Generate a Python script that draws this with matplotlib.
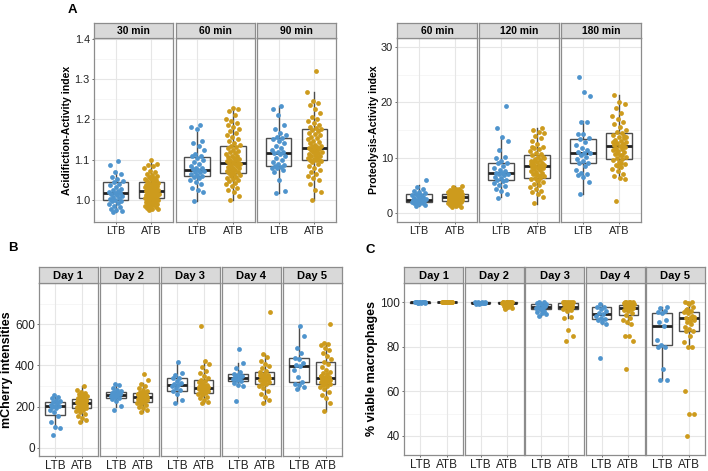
import numpy as np
import matplotlib
matplotlib.use("Agg")
import matplotlib.pyplot as plt

plt.rcParams['font.family'] = ['Liberation Sans', 'DejaVu Sans']

W, H = 708, 471
LTB_COLOR = "#4F94CD"
ATB_COLOR = "#CD9B1D"
groups = ["LTB", "ATB"]

# ---- Panel A left: acidification ----
acid_titles = ["30 min", "60 min", "90 min"]
acid_ltb = [
    [0.970, 0.972, 0.975, 0.978, 0.982, 0.985, 0.99, 0.993, 0.996, 0.998, 1.0, 1.002, 1.005, 1.008,
     1.01, 1.012, 1.015, 1.017, 1.018, 1.02, 1.022, 1.025, 1.028, 1.032, 1.036, 1.04, 1.044, 1.048,
     1.052, 1.056, 1.065, 1.07, 1.087, 1.097],
    [0.998, 1.02, 1.025, 1.03, 1.04, 1.045, 1.05, 1.055, 1.058, 1.06, 1.062, 1.065, 1.068, 1.07,
     1.072, 1.075, 1.076, 1.078, 1.08, 1.085, 1.09, 1.095, 1.1, 1.105, 1.108, 1.11, 1.115, 1.125,
     1.135, 1.14, 1.145, 1.177, 1.18, 1.187],
    [1.017, 1.022, 1.05, 1.07, 1.075, 1.078, 1.08, 1.082, 1.084, 1.086, 1.09, 1.095, 1.1, 1.105,
     1.11, 1.113, 1.116, 1.118, 1.12, 1.125, 1.13, 1.135, 1.14, 1.145, 1.15, 1.153, 1.155, 1.16,
     1.165, 1.175, 1.185, 1.21, 1.225, 1.233],
]
acid_atb = [
    [0.975, 0.977, 0.978, 0.980, 0.982, 0.983, 0.985, 0.987, 0.988, 0.990, 0.992, 0.994, 0.995,
     0.997, 0.999, 1.000, 1.002, 1.003, 1.004, 1.005, 1.006, 1.008, 1.009, 1.010, 1.012, 1.013,
     1.014, 1.015, 1.016, 1.018, 1.019, 1.020, 1.021, 1.022, 1.023, 1.024, 1.025, 1.027, 1.028,
     1.030, 1.031, 1.032, 1.034, 1.035, 1.037, 1.038, 1.040, 1.042, 1.043, 1.045, 1.047, 1.049,
     1.051, 1.053, 1.055, 1.057, 1.060, 1.062, 1.065, 1.068, 1.072, 1.078, 1.085, 1.087, 1.090, 1.100],
    [1.000, 1.010, 1.020, 1.025, 1.030, 1.035, 1.040, 1.043, 1.046, 1.050, 1.052, 1.055, 1.058,
     1.060, 1.062, 1.064, 1.066, 1.068, 1.070, 1.072, 1.074, 1.076, 1.078, 1.080, 1.082, 1.084,
     1.086, 1.088, 1.090, 1.091, 1.092, 1.094, 1.096, 1.098, 1.100, 1.102, 1.104, 1.106, 1.108,
     1.110, 1.113, 1.116, 1.119, 1.122, 1.125, 1.128, 1.131, 1.134, 1.137, 1.140, 1.145, 1.150,
     1.155, 1.160, 1.165, 1.170, 1.175, 1.180, 1.185, 1.190, 1.195, 1.200, 1.210, 1.220, 1.225, 1.228],
    [1.000, 1.020, 1.025, 1.040, 1.050, 1.055, 1.060, 1.065, 1.070, 1.075, 1.080, 1.085, 1.090,
     1.093, 1.096, 1.098, 1.099, 1.100, 1.102, 1.104, 1.106, 1.108, 1.110, 1.112, 1.114, 1.116,
     1.118, 1.120, 1.122, 1.124, 1.126, 1.128, 1.130, 1.131, 1.133, 1.135, 1.137, 1.140, 1.143,
     1.146, 1.150, 1.153, 1.156, 1.160, 1.163, 1.166, 1.170, 1.173, 1.175, 1.178, 1.182, 1.186,
     1.190, 1.195, 1.200, 1.205, 1.215, 1.225, 1.235, 1.240, 1.245, 1.268, 1.320],
]
# box stats: (whisker low, q1, median, q3, whisker high)
acid_ltb_box = [(0.969, 1.0, 1.017, 1.044, 1.072), (0.998, 1.06, 1.075, 1.107, 1.168),
                (1.017, 1.084, 1.116, 1.153, 1.233)]
acid_atb_box = [(0.975, 1.004, 1.022, 1.045, 1.10), (1.0, 1.066, 1.091, 1.134, 1.225),
                (1.0, 1.099, 1.13, 1.175, 1.268)]

# ---- Panel A right: proteolysis ----
prot_titles = ["60 min", "120 min", "180 min"]
prot_ltb = [
    [1.3, 1.5, 1.6, 1.7, 1.8, 1.9, 2.0, 2.0, 2.1, 2.2, 2.3, 2.3, 2.4, 2.4, 2.5, 2.6, 2.7, 2.8,
     3.0, 3.2, 3.3, 3.5, 3.6, 3.8, 4.0, 4.3, 4.7, 6.0],
    [2.7, 3.5, 4.0, 4.3, 4.8, 5.0, 5.4, 5.8, 5.9, 6.0, 6.3, 6.5, 6.8, 7.0, 7.1, 7.2, 7.3, 7.5,
     7.8, 8.2, 8.5, 9.0, 9.1, 9.3, 10.0, 10.2, 11.4, 13.0, 13.7, 15.4, 19.4],
    [3.5, 5.6, 6.5, 6.8, 7.0, 7.3, 7.8, 8.5, 9.0, 9.1, 9.3, 9.8, 10.2, 10.5, 10.8, 10.9, 11.0,
     11.3, 11.8, 12.3, 12.8, 13.3, 13.5, 14.2, 14.3, 16.4, 16.5, 21.2, 21.9, 24.6],
]
prot_atb = [
    [1.0, 1.1, 1.3, 1.4, 1.5, 1.6, 1.7, 1.8, 1.9, 2.0, 2.0, 2.1, 2.1, 2.2, 2.3, 2.3, 2.4, 2.5,
     2.5, 2.6, 2.6, 2.7, 2.7, 2.8, 2.8, 2.8, 2.9, 2.9, 3.0, 3.0, 3.1, 3.1, 3.2, 3.2, 3.3, 3.4,
     3.4, 3.5, 3.5, 3.6, 3.7, 3.8, 3.9, 4.0, 4.1, 4.2, 4.4, 4.6, 4.8, 2.2, 2.6, 3.3, 1.9, 2.9,
     3.6, 2.4, 3.0, 4.3, 1.6, 2.7],
    [1.7, 2.9, 3.5, 3.8, 4.0, 4.3, 4.6, 5.0, 5.3, 5.6, 5.9, 6.1, 6.3, 6.4, 6.6, 6.8, 7.0, 7.2,
     7.4, 7.6, 7.8, 8.0, 8.1, 8.2, 8.3, 8.4, 8.5, 8.6, 8.7, 8.8, 9.0, 9.2, 9.4, 9.6, 9.8, 10.0,
     10.2, 10.4, 10.6, 10.9, 11.2, 11.5, 11.8, 12.0, 12.5, 13.0, 13.5, 14.0, 14.4, 14.7, 15.0,
     15.3, 7.1, 8.9, 6.7, 9.3, 10.1, 5.8, 11.9, 8.4],
    [2.2, 6.2, 6.4, 6.6, 7.0, 7.5, 8.0, 8.3, 8.6, 8.9, 9.2, 9.5, 9.7, 9.9, 10.1, 10.4, 10.7,
     11.0, 11.2, 11.4, 11.6, 11.8, 12.0, 12.1, 12.2, 12.4, 12.6, 12.8, 13.0, 13.2, 13.5, 13.8,
     14.1, 14.4, 14.6, 15.0, 15.5, 16.0, 16.5, 17.0, 17.5, 18.0, 19.0, 19.7, 20.0, 21.3, 12.3,
     10.9, 13.7, 9.1, 11.5, 14.0, 8.4, 12.9, 10.5],
]
prot_ltb_box = [(1.3, 2.0, 2.4, 3.5, 5.0), (2.9, 5.9, 7.2, 9.1, 13.7), (3.5, 9.1, 10.9, 13.35, 16.7)]
prot_atb_box = [(1.0, 2.1, 2.8, 3.5, 4.8), (1.6, 6.4, 8.5, 10.4, 15.3), (6.3, 9.7, 12.1, 14.5, 21.3)]

# ---- Panel B: mCherry ----
day_titles = ["Day 1", "Day 2", "Day 3", "Day 4", "Day 5"]
mch_ltb = [
    [62, 95, 100, 123, 155, 175, 185, 195, 200, 203, 205, 210, 215, 220, 225, 232, 240, 248, 255],
    [183, 205, 225, 238, 243, 248, 252, 255, 257, 259, 262, 265, 268, 272, 275, 280, 290, 305, 310],
    [215, 230, 260, 277, 280, 290, 300, 307, 310, 315, 325, 338, 340, 355, 365, 415],
    [228, 300, 305, 315, 322, 328, 333, 338, 342, 348, 355, 360, 370, 385, 410, 480],
    [285, 295, 305, 310, 319, 345, 380, 397, 400, 410, 430, 437, 460, 485, 545, 590],
]
mch_atb = [
    [125, 135, 145, 155, 165, 175, 180, 185, 190, 192, 195, 200, 203, 206, 210, 213, 216, 219,
     221, 224, 227, 230, 233, 236, 239, 242, 246, 250, 255, 260, 265, 270, 280, 300, 212, 228,
     198, 244, 208],
    [175, 185, 192, 200, 206, 212, 218, 222, 226, 230, 234, 238, 242, 246, 248, 250, 253, 256,
     259, 262, 265, 270, 276, 282, 290, 300, 310, 330, 357, 240, 251, 228, 262, 244],
    [215, 222, 230, 240, 248, 255, 262, 267, 272, 276, 280, 284, 288, 291, 294, 298, 302, 306,
     312, 318, 325, 330, 340, 350, 362, 375, 390, 405, 420, 590, 286, 279, 296, 270, 310],
    [215, 230, 245, 260, 275, 290, 300, 308, 312, 318, 324, 330, 335, 338, 341, 345, 350, 355,
     360, 367, 375, 385, 395, 405, 420, 440, 455, 660, 336, 328, 347, 315, 352],
    [180, 215, 240, 255, 270, 285, 295, 300, 305, 309, 313, 318, 322, 326, 330, 334, 338, 342,
     346, 350, 356, 362, 370, 380, 392, 405, 417, 430, 445, 460, 475, 485, 500, 505, 510, 600,
     325, 332, 340, 316, 348],
]
mch_ltb_box = [(94, 161, 203, 222, 250), (200, 243, 257, 272, 305), (215, 277, 307, 338, 415),
               (300, 322, 338, 360, 410), (285, 319, 397, 437, 590)]
mch_atb_box = [(125, 191, 219, 238, 300), (175, 222, 246, 264, 315), (215, 267, 291, 330, 420),
               (215, 312, 338, 367, 455), (180, 309, 338, 417, 510)]

# ---- Panel C: viability ----
via_ltb = [
    [99.6, 99.7, 99.8, 99.9, 100, 100, 100, 100, 100, 100, 100, 100, 100, 99.8, 99.9],
    [99.2, 99.4, 99.5, 99.6, 99.7, 99.8, 100, 100, 100, 99.9, 99.5, 99.3, 99.7],
    [94.0, 94.5, 95.0, 95.5, 96.0, 97.0, 97.5, 98.0, 98.0, 98.5, 99.0, 99.5, 100, 100, 99.0, 97.0],
    [75, 90, 91, 92, 92.4, 93, 94, 94.8, 95, 96, 97, 97.8, 98, 99],
    [65, 65, 70, 80, 80, 80.6, 83, 89.3, 91, 92, 95, 95.5, 96, 97.5, 98],
]
via_atb = [
    [100] * 16,
    [97.0, 97.5, 98.0, 98.5, 99.0, 99.2, 99.5, 99.6, 99.8, 100, 100, 100, 100, 100, 100, 99.7,
     99.4, 98.8, 100, 100, 99.9, 97.3],
    [82.5, 85, 87.5, 93, 93.5, 96, 97, 97.5, 98, 98, 98.5, 99, 99, 99.5, 100, 100, 100, 100,
     100, 100, 99.8, 99.2, 98.7, 97.8, 100, 96.5],
    [70, 82.5, 85, 85, 90, 91, 92, 93, 94.3, 95, 96, 96.5, 97, 97.2, 97.5, 98, 98.5, 98.8, 99,
     99.5, 100, 100, 100, 100, 100, 98.2, 96.8, 99.3],
    [40, 50, 50, 60, 80, 80, 82, 85, 87, 87.2, 88, 89, 90, 91, 92, 92.7, 93, 94, 95, 95.7, 96,
     97, 98, 99, 100, 100, 99.5, 93.5, 91.5, 96.5],
]
via_ltb_box = [(99.6, 99.8, 99.95, 100, 100), (99.2, 99.5, 99.7, 99.9, 100), (94.0, 97.0, 98.0, 99.0, 100),
               (90, 92.4, 94.8, 97.8, 99), (65, 80.6, 89.3, 95, 98)]
via_atb_box = [(100, 99.9, 100, 100, 100), (97.0, 99.4, 99.7, 100, 100), (93, 97.0, 98.0, 99.6, 100),
               (90, 94.3, 97.2, 98.8, 100), (80, 87.2, 92.7, 95.7, 100)]


def frac(x, y_top, w, h):
    return [x / W, 1 - (y_top + h) / H, w / W, h / H]


def jitter(n, spread=0.2):
    return ((np.arange(n) * 0.618034 + 0.31) % 1 - 0.5) * 2 * spread


def draw_panel(fig, x0, fw, gap, strip_top, strip_h, bottom, titles, ltb, atb,
               ltb_box, atb_box, ylim, yticks, ylabels, minor, ylabel, letter, letter_xy,
               tick_fs, strip_fs, label_fs, spread=0.2):
    plot_top = strip_top + strip_h
    for i, title in enumerate(titles):
        x = x0 + i * (fw + gap)
        ax = fig.add_axes(frac(x, plot_top, fw, bottom - plot_top))
        ax.set_xlim(0.4, 2.6)
        ax.set_ylim(*ylim)
        for yv in minor:
            ax.axhline(yv, color="#F3F3F3", lw=0.5, zorder=0)
        for yv in yticks:
            ax.axhline(yv, color="#E6E6E6", lw=0.8, zorder=0)
        for xv in (1, 2):
            ax.axvline(xv, color="#E6E6E6", lw=0.8, zorder=0)

        for pos, vals, box, color in ((1, ltb[i], ltb_box[i], LTB_COLOR),
                                      (2, atb[i], atb_box[i], ATB_COLOR)):
            lo, q1, med, q3, hi = box
            stats = [dict(whislo=lo, q1=q1, med=med, q3=q3, whishi=hi, fliers=[])]
            ax.bxp(stats, positions=[pos], widths=0.72, showcaps=False, patch_artist=True,
                   boxprops=dict(facecolor="none", edgecolor="#4D4D4D", lw=1.0),
                   whiskerprops=dict(color="#4D4D4D", lw=1.0),
                   medianprops=dict(color="#222222", lw=2.0), manage_ticks=False, zorder=2)
            v = np.asarray(vals, dtype=float)
            ax.scatter(pos + jitter(len(v), spread), v, s=12, color=color, lw=0, zorder=3)

        ax.set_xticks([1, 2])
        ax.set_xticklabels(groups, fontsize=tick_fs, color="#222222")
        ax.set_yticks(yticks)
        ax.tick_params(length=1.5, width=0.6, color="#555555", pad=1.5)
        if i == 0:
            ax.set_yticklabels(ylabels, fontsize=tick_fs, color="#222222")
            ax.set_ylabel(ylabel, fontsize=label_fs, fontweight="bold", labelpad=1.5)
        else:
            ax.tick_params(axis="y", left=False, labelleft=False)
        for sp in ax.spines.values():
            sp.set_color("#8C8C8C")
            sp.set_linewidth(0.9)

        sax = fig.add_axes(frac(x, strip_top, fw, strip_h))
        sax.set_facecolor("#D9D9D9")
        sax.set_xticks([])
        sax.set_yticks([])
        for sp in sax.spines.values():
            sp.set_color("#8C8C8C")
            sp.set_linewidth(0.9)
        sax.text(0.5, 0.45, title, ha="center", va="center", fontsize=strip_fs,
                 fontweight="bold", transform=sax.transAxes)
    if letter:
        fig.text(letter_xy[0] / W, 1 - letter_xy[1] / H, letter, fontsize=9.5,
                 fontweight="bold", ha="left", va="center")


fig = plt.figure(figsize=(W / 100, H / 100), dpi=100)

draw_panel(fig, 94, 79, 2.5, 23, 15, 222, acid_titles, acid_ltb, acid_atb,
           acid_ltb_box, acid_atb_box, (0.945, 1.402), [1.0, 1.1, 1.2, 1.3, 1.4],
           ["1.0", "1.1", "1.2", "1.3", "1.4"], [0.95, 1.05, 1.15, 1.25, 1.35],
           "Acidifiction-Activity index", "A", (68, 10), 7.8, 7.4, 7.6)
draw_panel(fig, 397, 80, 2, 23, 15, 222, prot_titles, prot_ltb, prot_atb,
           prot_ltb_box, prot_atb_box, (-1.65, 31.65), [0, 10, 20, 30],
           ["0", "10", "20", "30"], [5, 15, 25],
           "Proteolysis-Activity index", None, None, 7.8, 7.4, 7.6)
draw_panel(fig, 39, 58.5, 2.5, 267, 16, 456, day_titles, mch_ltb, mch_atb,
           mch_ltb_box, mch_atb_box, (-40, 800), [0, 200, 400, 600],
           ["0", "200", "400", "600"], [100, 300, 500, 700],
           "mCherry intensities", "B", (8, 248), 8.5, 8.0, 9.0)
draw_panel(fig, 404, 59, 1.5, 267, 16, 455, day_titles, via_ltb, via_atb,
           via_ltb_box, via_atb_box, (31.4, 108.6), [40, 60, 80, 100],
           ["40", "60", "80", "100"], [50, 70, 90],
           "% viable macrophages", "C", (366, 250), 8.5, 8.0, 9.0)

fig.savefig("out.png", dpi=100)
